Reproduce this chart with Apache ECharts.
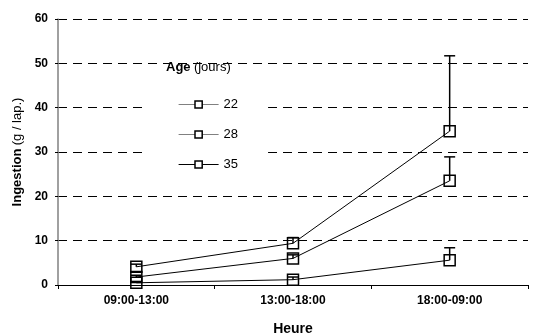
<!DOCTYPE html>
<html>
<head>
<meta charset="utf-8">
<style>
  html, body { margin: 0; padding: 0; background: #fff; }
  #chart { width: 541px; height: 336px; }
</style>
</head>
<body>
<div id="chart"></div>
<script src="https://cdn.jsdelivr.net/npm/echarts@6/dist/echarts.min.js"></script>
<script>
// data
var categories = ['09:00-13:00', '13:00-18:00', '18:00-09:00'];
var ages = ['22', '28', '35'];
var age22 = [0.5, 1.2, 5.6];
var age28 = [1.8, 6.0, 23.5];
var age35 = [4.1, 9.4, 34.7];
var err22 = [0.3, 0.6, 2.8];
var err28 = [0.4, 0.8, 5.4];
var err35 = [0.6, 1.3, 17.0];
var yTicks = [0, 10, 20, 30, 40, 50, 60];

var font = 'Liberation Sans, Arial, sans-serif';
var values = [age22, age28, age35];
var errors = [err22, err28, err35];

var myChart = echarts.init(document.getElementById('chart'), null, { renderer: 'canvas' });

function errData(v, e) {
  return v.map(function (d, i) { return [i, d, d + e[i]]; });
}

function renderErr(params, api) {
  var p0 = api.coord([api.value(0), api.value(1)]);
  var p1 = api.coord([api.value(0), api.value(2)]);
  var w = 5.5;
  var st = { stroke: '#000', lineWidth: 1.5 };
  return {
    type: 'group',
    children: [
      { type: 'line', shape: { x1: p0[0], y1: p0[1], x2: p1[0], y2: p1[1] }, style: st },
      { type: 'line', shape: { x1: p1[0] - w, y1: p1[1], x2: p1[0] + w, y2: p1[1] }, style: st }
    ]
  };
}

var series = [];
ages.forEach(function (a, k) {
  series.push({
    name: a,
    type: 'line',
    data: values[k],
    symbol: 'rect',
    symbolSize: 11,
    lineStyle: { color: '#000', width: 1 },
    itemStyle: { color: 'rgba(255,255,255,0)', borderColor: '#000', borderWidth: 1.5 },
    z: 3,
    animation: false
  });
  series.push({
    type: 'custom',
    data: errData(values[k], errors[k]),
    renderItem: renderErr,
    encode: { x: 0, y: [1, 2] },
    z: 4,
    silent: true,
    animation: false
  });
});

var legendColors = ['#808080', '#808080', '#000'];

var option = {
  backgroundColor: '#fff',
  animation: false,
  grid: { left: 58, right: 13, top: 19, bottom: 51, outerBoundsMode: 'none', containLabel: false },
  xAxis: {
    type: 'category',
    data: categories,
    boundaryGap: true,
    axisLine: { lineStyle: { color: '#000', width: 1 } },
    axisTick: { show: true, alignWithLabel: false, length: 4, lineStyle: { color: '#000' } },
    axisLabel: { color: '#000', fontFamily: font, fontSize: 12, fontWeight: 'bold', margin: 10 },
    name: 'Heure',
    nameLocation: 'middle',
    nameGap: 37,
    nameTextStyle: { color: '#000', fontFamily: font, fontSize: 14, fontWeight: 'bold' }
  },
  yAxis: {
    type: 'value',
    min: yTicks[0],
    max: yTicks[yTicks.length - 1],
    interval: 10,
    axisLine: { show: true, lineStyle: { color: '#808080', width: 1.5 } },
    axisTick: { show: true, length: 3, lineStyle: { color: '#000' } },
    axisLabel: { color: '#000', fontFamily: font, fontSize: 12, fontWeight: 'bold', margin: 10 },
    splitLine: { show: true, lineStyle: { color: '#000', type: [9, 6], width: 1 } },
    name: '{b|Ingestion} {r|(g / lap.)}',
    nameLocation: 'middle',
    nameGap: 33,
    nameTextStyle: {
      rich: {
        b: { fontFamily: font, fontSize: 13, fontWeight: 'bold', color: '#000' },
        r: { fontFamily: font, fontSize: 13, color: '#000' }
      }
    }
  },
  legend: {
    orient: 'vertical',
    left: 144,
    top: 80,
    backgroundColor: '#fff',
    padding: [18, 30, 8, 34],
    itemWidth: 40,
    itemHeight: 9,
    itemGap: 17,
    textStyle: { color: '#000', fontFamily: font, fontSize: 13 },
    data: ages.map(function (a, k) {
      return {
        name: a,
        itemStyle: { color: '#fff', borderColor: '#000', borderWidth: 1.5 },
        lineStyle: { color: legendColors[k], width: 1.2 }
      };
    })
  },
  graphic: [{
    type: 'text',
    left: 166,
    top: 61,
    z: 100,
    style: {
      text: '{b|Age} {r|(jours)}',
      rich: {
        b: { fontFamily: font, fontSize: 13, fontWeight: 'bold', fill: '#000' },
        r: { fontFamily: font, fontSize: 13, fill: '#000' }
      }
    }
  }],
  series: series
};

myChart.setOption(option);
window.addEventListener('resize', myChart.resize);
</script>
</body>
</html>
